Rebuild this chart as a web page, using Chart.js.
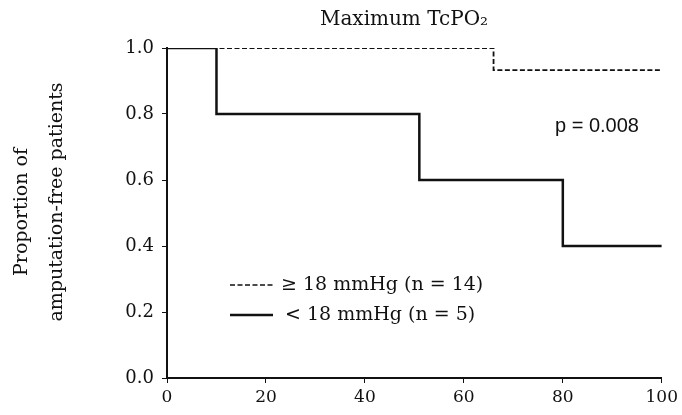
<!DOCTYPE html>
<html>
<head>
<meta charset="utf-8">
<script src="https://cdn.jsdelivr.net/npm/chart.js@4.4.1/dist/chart.umd.min.js"></script>
<style>
  html, body { margin: 0; padding: 0; background: #fff; }
  #wrap { width: 682px; height: 415px; }
</style>
</head>
<body>
<div id="wrap"><canvas id="km" width="682" height="415"></canvas></div>
<script>
// Kaplan-Meier steps (time, proportion amputation-free)
const lowTimes = [0, 10, 51, 80, 100];
const lowSurv = [1.0, 0.8, 0.6, 0.4, 0.4];
const highTimes = [0, 66, 100];
const highSurv = [1.0, 0.933, 0.933];

const xTicks = [0, 20, 40, 60, 80, 100];
const yTicks = [0.0, 0.2, 0.4, 0.6, 0.8, 1.0];

const titleText = 'Maximum TcPO₂';
const yTitle = ['Proportion of', 'amputation-free patients'];
const pText = 'p = 0.008';
const legendLabels = ['≥ 18 mmHg (n = 14)', '< 18 mmHg (n = 5)'];

const serif = '"DejaVu Serif", "Liberation Serif", serif';

function toPoints(xs, ys) {
    return xs.map((x, i) => ({ x: x, y: ys[i] }));
}

// Title, axis title, p-value and the legend box
const annotations = {
    id: 'annotations',
    afterDraw(chart) {
        const ctx = chart.ctx;
        ctx.save();
        ctx.fillStyle = '#111';
        ctx.textBaseline = 'middle';

        ctx.font = '20px ' + serif;
        ctx.textAlign = 'center';
        ctx.fillText(titleText, 404, 20);

        ctx.font = '19px ' + serif;
        [[22, 212], [57, 202]].forEach((p, i) => {
            ctx.save();
            ctx.translate(p[0], p[1]);
            ctx.rotate(-Math.PI / 2);
            ctx.fillText(yTitle[i], 0, 0);
            ctx.restore();
        });

        ctx.font = '20px "Liberation Sans", Arial, sans-serif';
        ctx.textAlign = 'left';
        ctx.fillText(pText, 555, 126);

        // legend
        ctx.strokeStyle = '#111';
        ctx.lineWidth = 1.6;
        ctx.setLineDash([5, 2.5]);
        ctx.beginPath();
        ctx.moveTo(230, 285);
        ctx.lineTo(273, 285);
        ctx.stroke();
        ctx.setLineDash([]);
        ctx.lineWidth = 2.5;
        ctx.beginPath();
        ctx.moveTo(230, 315);
        ctx.lineTo(273, 315);
        ctx.stroke();

        ctx.font = '19px ' + serif;
        ctx.fillText(legendLabels[0], 281, 285);
        ctx.fillText(legendLabels[1], 285, 315);
        ctx.restore();
    }
};

new Chart(document.getElementById('km'), {
    type: 'line',
    data: {
        datasets: [
            {
                label: legendLabels[1],
                data: toPoints(lowTimes, lowSurv),
                borderColor: '#111',
                borderWidth: 2.5,
                stepped: true,
                pointRadius: 0,
                fill: false
            },
            {
                label: legendLabels[0],
                data: toPoints(highTimes, highSurv),
                borderColor: '#111',
                borderWidth: 1.8,
                borderDash: [5, 2.5],
                stepped: true,
                pointRadius: 0,
                fill: false
            }
        ]
    },
    options: {
        responsive: false,
        animation: false,
        devicePixelRatio: 1,
        layout: { padding: { left: 0, right: 15, top: 48, bottom: 0 } },
        plugins: {
            legend: { display: false },
            tooltip: { enabled: false },
            title: { display: false }
        },
        scales: {
            x: {
                type: 'linear',
                min: 0,
                max: 100,
                afterBuildTicks: s => { s.ticks = xTicks.map(v => ({ value: v })); },
                afterFit: s => { s.height = 37; },
                ticks: { color: '#111', font: { family: serif, size: 17 }, padding: 4 },
                grid: { drawOnChartArea: false, drawTicks: true, tickLength: 5, color: '#111', lineWidth: 1 },
                border: { color: '#111', width: 2 }
            },
            y: {
                min: 0,
                max: 1,
                afterBuildTicks: s => { s.ticks = yTicks.map(v => ({ value: v })); },
                afterFit: s => { s.width = 167; },
                ticks: { color: '#111', font: { family: serif, size: 18 }, padding: 8, callback: v => v.toFixed(1) },
                grid: { drawOnChartArea: false, drawTicks: true, tickLength: 5, color: '#111', lineWidth: 1 },
                border: { color: '#111', width: 2 }
            }
        }
    },
    plugins: [annotations]
});
</script>
</body>
</html>
